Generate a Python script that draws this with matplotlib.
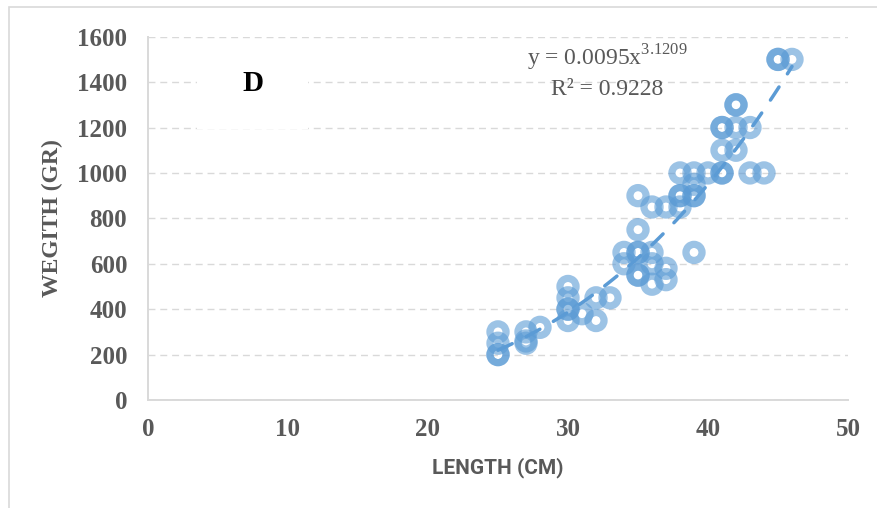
import numpy as np
import matplotlib
matplotlib.use("Agg")
import matplotlib.pyplot as plt
from matplotlib.patches import Rectangle

# ----- data -----
length_cm = [25, 25, 25, 25, 27, 27, 27, 28,
             30, 30, 30, 30, 30, 31, 32, 32, 33,
             34, 34, 35, 35, 35, 35, 35, 35,
             36, 36, 36, 36, 37, 37, 37,
             38, 38, 38, 38, 39, 39, 39, 39, 39,
             40, 41, 41, 41, 41, 41, 42, 42, 42, 42,
             43, 43, 44, 45, 45, 46]
weight_gr = [200, 200, 250, 300, 250, 260, 300, 320,
             350, 400, 400, 450, 500, 380, 350, 450, 450,
             600, 650, 550, 550, 650, 650, 750, 900,
             510, 600, 650, 850, 530, 580, 850,
             850, 900, 900, 1000, 650, 900, 900, 950, 1000,
             1000, 1000, 1000, 1100, 1200, 1200, 1100, 1200, 1300, 1300,
             1000, 1200, 1000, 1500, 1500, 1500]

# power trendline as printed on the chart
coef_a = 0.0095
coef_b = 3.1209
r_squared = 0.9228

x_ticks = [0, 10, 20, 30, 40, 50]
y_ticks = [0, 200, 400, 600, 800, 1000, 1200, 1400, 1600]

blue = "#5B9BD5"
gray_txt = "#595959"
grid_col = "#D9D9D9"

plt.rcParams["mathtext.fontset"] = "custom"
plt.rcParams["mathtext.rm"] = "Liberation Serif"

fig = plt.figure(figsize=(8.78, 5.08), dpi=100)
ax = fig.add_axes([148 / 878, 1 - 400 / 508, 700 / 878, 363.3 / 508])

# outer chart border
fig.patches.append(Rectangle((9 / 878, -0.05), 1.2, 1 - 7 / 508 + 0.05,
                             transform=fig.transFigure, fill=False,
                             edgecolor=grid_col, linewidth=1.2, zorder=0))

ax.scatter(length_cm, weight_gr, s=11.6 ** 2, facecolors="none",
           edgecolors=(91 / 255, 155 / 255, 213 / 255, 0.6),
           linewidths=5.2, zorder=3)

xt = np.linspace(min(length_cm), max(length_cm), 100)
ax.plot(xt, coef_a * xt ** coef_b, color=blue, linewidth=2.5,
        linestyle=(0, (4.5, 4.5)), dash_capstyle="round", zorder=4)

ax.set_xlim(0, 50)
ax.set_ylim(0, 1600)
ax.set_xticks(x_ticks)
ax.set_yticks(y_ticks)
ax.tick_params(length=0, colors=gray_txt)
ax.tick_params(axis="y", pad=15)
ax.tick_params(axis="x", pad=13)
for lab in ax.get_xticklabels() + ax.get_yticklabels():
    lab.set_fontfamily("Liberation Serif")
    lab.set_fontweight("bold")
    lab.set_fontsize(18)

ax.yaxis.grid(True, color=grid_col, linewidth=1.0, linestyle=(0, (5, 3.5)))
ax.set_axisbelow(True)
for side in ["top", "right"]:
    ax.spines[side].set_visible(False)
for side in ["left", "bottom"]:
    ax.spines[side].set_color(grid_col)
    ax.spines[side].set_linewidth(1.4)

ax.set_ylabel("WEGITH (GR)", fontfamily="Liberation Serif", fontweight="bold",
              fontsize=17, color=gray_txt, labelpad=10)
ax.set_xlabel("LENGTH (CM)", fontfamily="Roboto",
              fontweight="bold", fontsize=15, color=gray_txt, labelpad=12)

# white box with panel letter
ax.add_patch(Rectangle((0.070, 0.746), 0.159, 0.248, transform=ax.transAxes,
                       facecolor="white", edgecolor="none", zorder=2))
ax.text(0.1495, 0.870, "D", transform=ax.transAxes, ha="center", va="center",
        fontfamily="Liberation Serif", fontweight="bold", fontsize=21,
        color="black", zorder=5)

ax.text(0.656, (400 - 65) / 363.3, "y = %.4fx$^{%.4f}$" % (coef_a, coef_b),
        transform=ax.transAxes, ha="center", va="baseline",
        fontfamily="Liberation Serif", fontsize=17, color=gray_txt, zorder=5)
ax.text(0.656, (400 - 95) / 363.3, "R\u00b2 = %.4f" % r_squared,
        transform=ax.transAxes, ha="center", va="baseline",
        fontfamily="Liberation Serif", fontsize=17, color=gray_txt, zorder=5)

fig.savefig("out.png", dpi=100)
